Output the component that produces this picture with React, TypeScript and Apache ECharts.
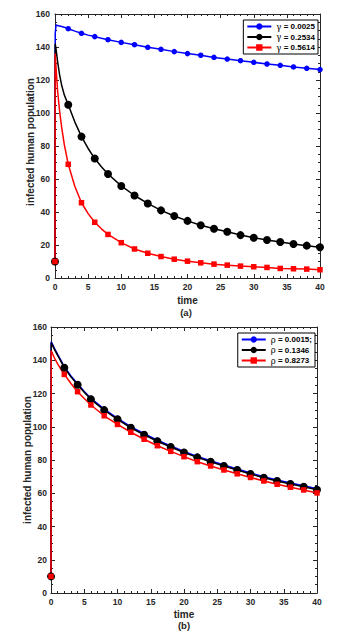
import React, { useEffect, useRef } from "react";
import * as echarts from "echarts";

// ---------- data ----------
const markTimes = [0, 2, 4, 6, 8, 10, 12, 14, 16, 18, 20, 22, 24, 26, 28, 30, 32, 34, 36, 38, 40];

// panel (a)
const gammaNames = ["γ = 0.0025", "γ = 0.2534", "γ = 0.5614"];
const blueA = [10, 151.1, 148.3, 146.3, 144.4, 142.8, 141.4, 139.8, 138.6, 137.2, 136.0, 135.0, 133.7, 132.7, 131.7, 130.7, 129.7, 128.9, 127.9, 127.1, 126.3];
const blackA = [10, 105, 85.7, 72.4, 63, 55.8, 50, 45.2, 41, 37.6, 34.6, 32, 29.8, 28, 26, 24.4, 23, 21.8, 20.6, 19.6, 18.6];
const redA = [10, 68.9, 45.6, 33.8, 26.4, 21.4, 17.6, 15, 13, 11.4, 10.2, 9.2, 8.4, 7.8, 7.2, 6.8, 6.4, 5.8, 5.6, 5.4, 5];
const extraTimesA = [0.03, 0.15, 0.4, 0.7, 1, 1.4, 3, 5, 7];
const blueAExtra = [148, 153.3, 153.0, 152.7, 152.4, 152, 149.6, 147.2, 145.3];
const blackAExtra = [142, 139, 131, 123, 117, 111, 94.5, 78.5, 67.4];
const redAExtra = [136, 128, 113, 101, 91.5, 81, 55.5, 39, 29.8];

// panel (b)
const rhoNames = ["ρ = 0.0015;", "ρ = 0.1346", "ρ = 0.8273"];
const blueB = [10, 136.1, 125.9, 117.1, 110.6, 105.1, 100, 95.8, 91.9, 88.4, 85.1, 82.2, 79.5, 77, 74.6, 72.2, 69.9, 68, 66.2, 64.5, 62.7];
const blackB = [10, 135.5, 125.3, 116.5, 110, 104.5, 99.4, 95.2, 91.3, 87.8, 84.5, 81.6, 78.9, 76.4, 74, 71.6, 69.3, 67.4, 65.6, 63.9, 62.1];
const redB = [10, 131.5, 121.1, 113.1, 106.6, 101.4, 96.7, 92.5, 88.6, 85.2, 82, 79, 76.4, 74, 71.7, 69.5, 67.4, 65.4, 63.6, 62, 60.2];
const extraTimesB = [0.03, 0.5, 1, 1.5, 3, 5];
const blueBExtra = [151.2, 147.3, 143.5, 139.9, 130.5, 121.2];
const blackBExtra = [150.6, 146.7, 142.9, 139.3, 130, 120.7];
const redBExtra = [145.7, 141.5, 137.8, 134.5, 126, 117];

const xTickLabels = ["0", "5", "10", "15", "20", "25", "30", "35", "40"];
const yTickLabels = ["0", "20", "40", "60", "80", "100", "120", "140", "160"];

const yTitle = "infected human population";
const xTitle = "time";
const captions = ["(a)", "(b)"];

// ---------- helpers ----------
const FONT = "Liberation Sans, Arial, sans-serif";
const INK = "#262626";

function buildData(vals: number[], extraT: number[], extraV: number[]) {
  const pts: any[] = [];
  markTimes.forEach((t, i) => pts.push({ value: [t, vals[i]] }));
  extraT.forEach((t, i) => pts.push({ value: [t, extraV[i]], symbol: "none" }));
  pts.sort((a, b) => a.value[0] - b.value[0]);
  return pts;
}

function mkSeries(name: string, color: string, symbol: string, size: number, data: any[], idx: number) {
  return {
    type: "line",
    name,
    xAxisIndex: idx,
    yAxisIndex: idx,
    data,
    symbol,
    symbolSize: size,
    showAllSymbol: true,
    lineStyle: { color, width: 1.5 },
    itemStyle: { color },
    z: 3,
  };
}

const tickCommon = {
  axisLine: { show: true, onZero: false, lineStyle: { color: INK, width: 1 } },
  axisTick: { show: true, inside: true, length: 4, lineStyle: { color: INK } },
  splitLine: { show: false },
};

function mainX(gridIndex: number, gap: number) {
  return {
    type: "value",
    gridIndex,
    min: 0,
    max: 40,
    interval: 5,
    name: xTitle,
    nameLocation: "middle",
    nameGap: gap,
    nameTextStyle: { fontFamily: FONT, fontWeight: "bold", fontSize: 10, color: INK },
    ...tickCommon,
    minorTick: { show: true, splitNumber: 5, length: 2, lineStyle: { color: INK } },
    axisLabel: {
      margin: 4,
      fontFamily: FONT,
      fontWeight: "bold",
      fontSize: 8.5,
      color: INK,
      formatter: (v: number) => xTickLabels[Math.round(v / 5)] ?? "",
    },
  };
}
function mirrorX(gridIndex: number) {
  return {
    type: "value",
    gridIndex,
    position: "top",
    min: 0,
    max: 40,
    interval: 5,
    ...tickCommon,
    minorTick: { show: true, splitNumber: 5, length: 2, lineStyle: { color: INK } },
    axisLabel: { show: false },
  };
}
function mainY(gridIndex: number, margin: number) {
  return {
    type: "value",
    gridIndex,
    min: 0,
    max: 160,
    interval: 20,
    ...tickCommon,
    minorTick: { show: true, splitNumber: 4, length: 2, lineStyle: { color: INK } },
    axisLabel: {
      margin,
      fontFamily: FONT,
      fontWeight: "bold",
      fontSize: 8.5,
      color: INK,
      formatter: (v: number) => yTickLabels[Math.round(v / 20)] ?? "",
    },
  };
}
function mirrorY(gridIndex: number) {
  return {
    type: "value",
    gridIndex,
    position: "right",
    min: 0,
    max: 160,
    interval: 20,
    ...tickCommon,
    minorTick: { show: true, splitNumber: 4, length: 2, lineStyle: { color: INK } },
    axisLabel: { show: false },
  };
}
function mkLegend(names: string[], right: number, top: number) {
  return {
    data: names,
    orient: "vertical",
    right,
    top,
    itemWidth: 24,
    itemHeight: 8,
    itemGap: 1.5,
    padding: [2, 3, 2, 3],
    borderColor: "#000",
    borderWidth: 1,
    backgroundColor: "#fff",
    borderRadius: 0,
    formatter: (n: string) => `{g|${n.charAt(0)}}{b|${n.slice(1)}}`,
    textStyle: {
      rich: {
        g: { fontFamily: "DejaVu Serif, serif", fontSize: 8.5, color: "#000" },
        b: { fontFamily: FONT, fontWeight: "bold", fontSize: 8, color: "#000" },
      },
    },
  };
}

function textEl(text: string, x: number, y: number, size: number, rotation = 0) {
  return {
    type: "text",
    x,
    y,
    rotation,
    style: { text, fontFamily: FONT, fontWeight: "bold", fontSize: size, fill: INK, align: "center", verticalAlign: "middle" },
  };
}

export default function App() {
  const ref = useRef<HTMLDivElement>(null);
  useEffect(() => {
    if (!ref.current) return;
    const chart = echarts.init(ref.current, undefined, { renderer: "svg" });
    const option: any = {
      animation: false,
      backgroundColor: "#fff",
      grid: [
        { left: 55, top: 14, width: 265, height: 264 },
        { left: 51, top: 327, width: 266, height: 266 },
      ],
      xAxis: [mainX(0, 17.5), mainX(1, 16.5), mirrorX(0), mirrorX(1)],
      yAxis: [mainY(0, 5), mainY(1, 4), mirrorY(0), mirrorY(1)],
      legend: [mkLegend(gammaNames, 23, 20), mkLegend(rhoNames, 26, 333)],
      series: [
        mkSeries(gammaNames[0], "#0000ff", "circle", 5.5, buildData(blueA, extraTimesA, blueAExtra), 0),
        mkSeries(gammaNames[1], "#000000", "circle", 8, buildData(blackA, extraTimesA, blackAExtra), 0),
        mkSeries(gammaNames[2], "#ff0000", "rect", 5.5, buildData(redA, extraTimesA, redAExtra), 0),
        mkSeries(rhoNames[0], "#0000ff", "circle", 5.5, buildData(blueB, extraTimesB, blueBExtra), 1),
        mkSeries(rhoNames[1], "#000000", "circle", 8, buildData(blackB, extraTimesB, blackBExtra), 1),
        mkSeries(rhoNames[2], "#ff0000", "rect", 5.5, buildData(redB, extraTimesB, redBExtra), 1),
      ],
      graphic: [
        textEl(yTitle, 30, 142, 10, Math.PI / 2),
        textEl(yTitle, 27, 460, 10, Math.PI / 2),
        textEl(captions[0], 186, 312, 9.5),
        textEl(captions[1], 184, 625, 9.5),
      ],
    };
    chart.setOption(option);
    return () => chart.dispose();
  }, []);
  return (
    <div
      ref={ref}
      style={{ position: "fixed", left: 0, top: 0, width: 341, height: 636, background: "#fff" }}
    />
  );
}
